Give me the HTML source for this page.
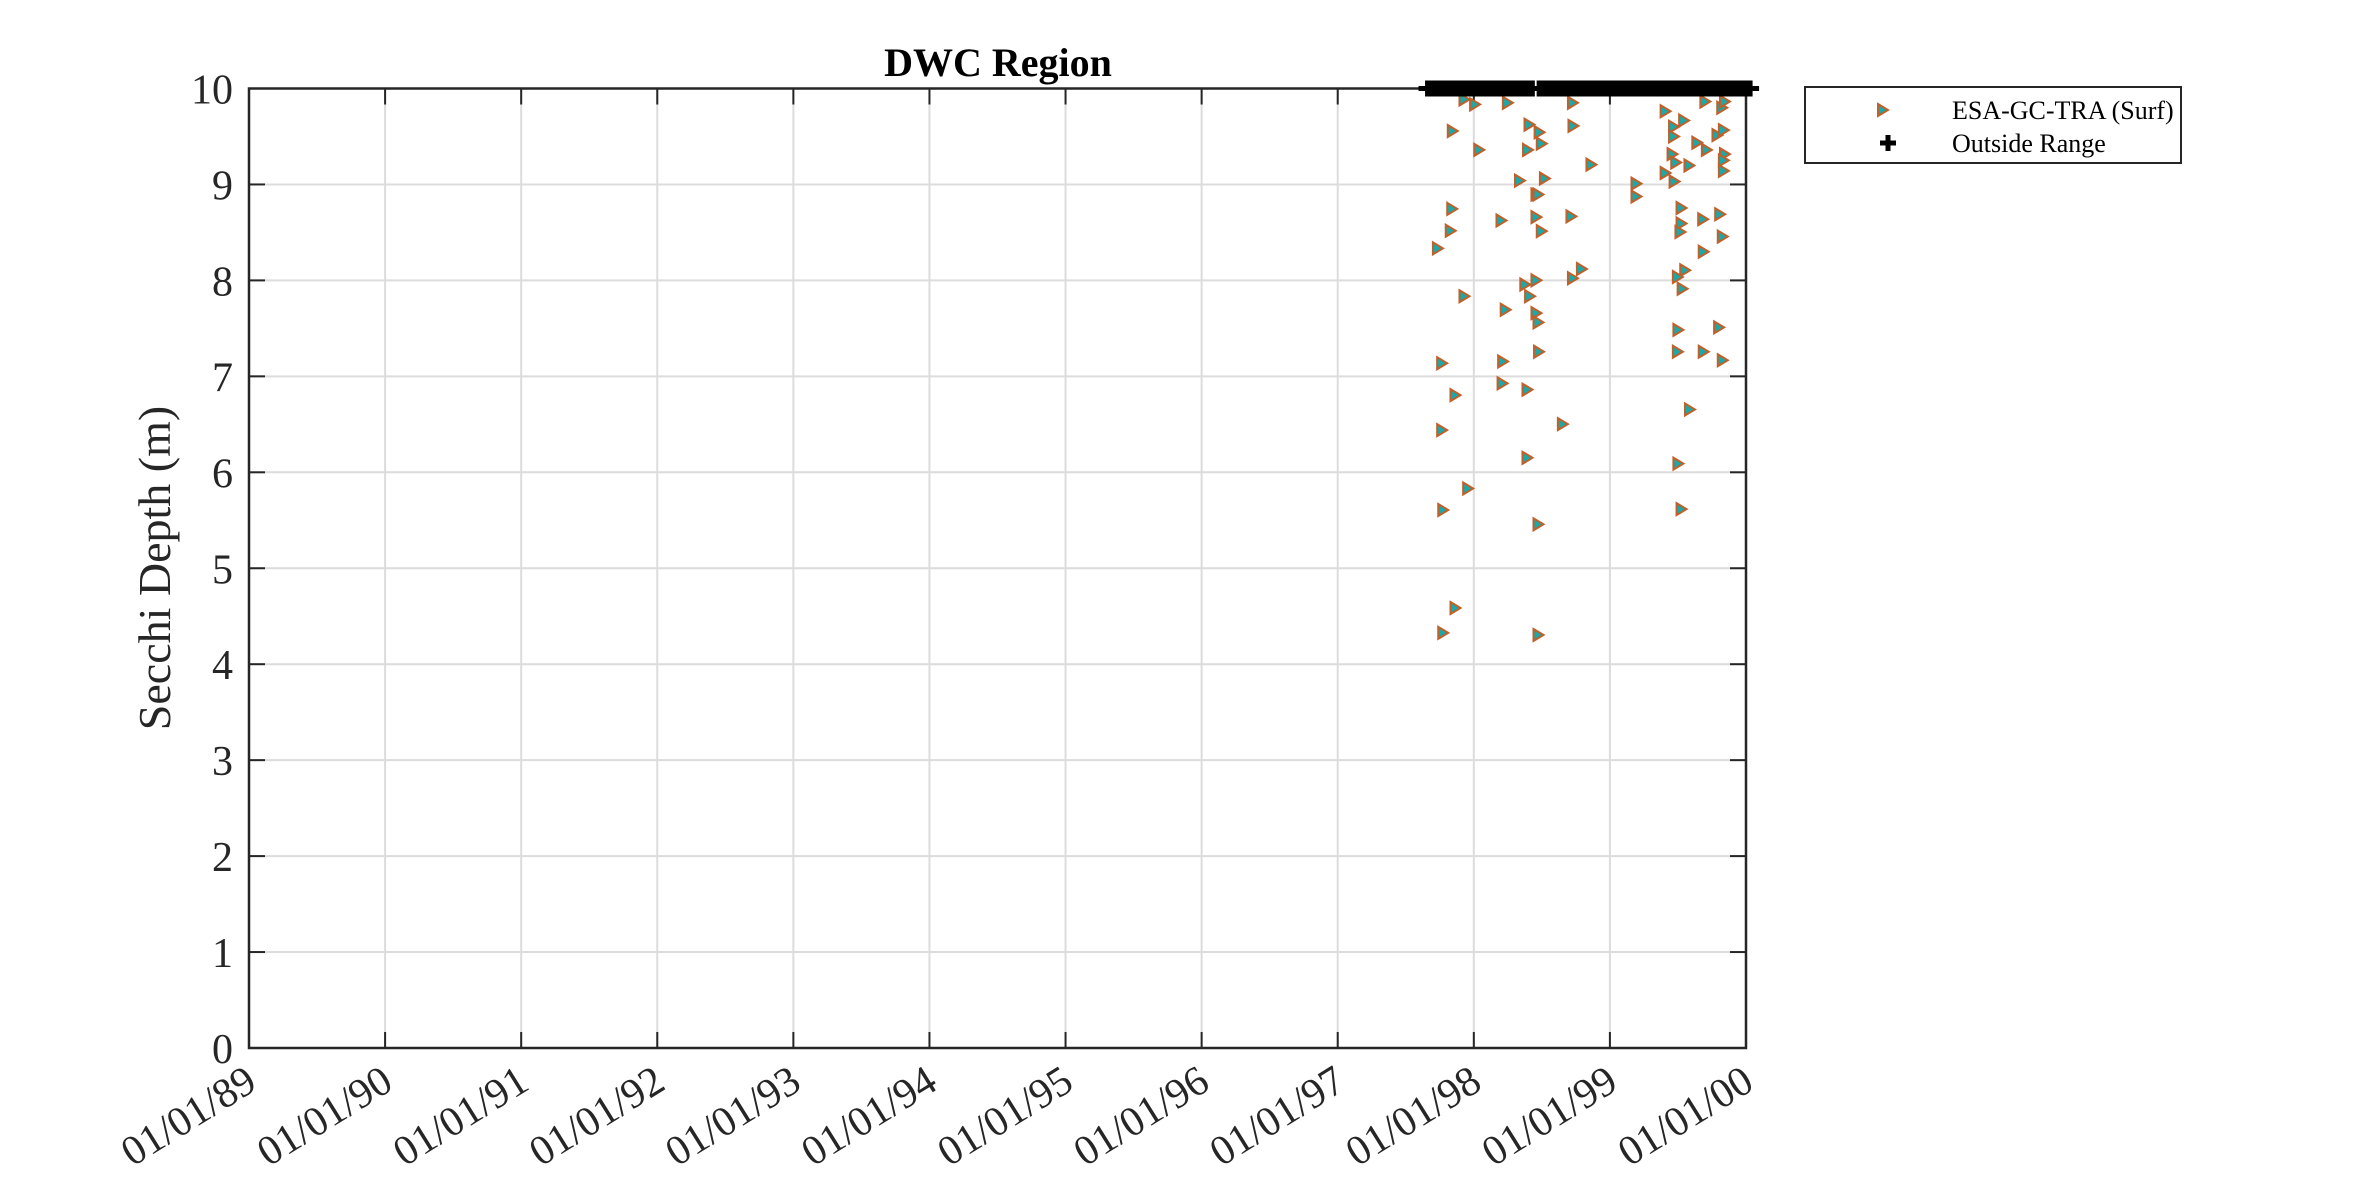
<!DOCTYPE html>
<html><head><meta charset="utf-8"><style>
html,body{margin:0;padding:0;background:#fff;}
svg{display:block;font-family:"Liberation Serif",serif;}
</style></head><body>
<svg id="chart" width="2362" height="1181" viewBox="0 0 2362 1181" xmlns="http://www.w3.org/2000/svg">
<rect width="2362" height="1181" fill="#fff"/>
<g id="grid"></g>
<g id="axes"></g>
<g id="marks"></g>
<text x="998" y="76" text-anchor="middle" font-size="40" font-weight="bold" fill="#000">DWC Region</text>
<text transform="translate(170,568) rotate(-90)" text-anchor="middle" font-size="46" fill="#262626">Secchi Depth (m)</text>
<g>
<rect x="1805" y="87" width="376" height="76" fill="#fff" stroke="#262626" stroke-width="2"/>
<polygon points="1878,104 1888,110 1878,116" fill="#1aa8a8" stroke="#c0602a" stroke-width="2"/>
<text x="1952" y="119" font-size="26" fill="#000">ESA-GC-TRA (Surf)</text>
<path d="M1880,143 h16 M1888,135 v16" stroke="#000" stroke-width="5"/>
<text x="1952" y="152" font-size="26" fill="#000">Outside Range</text>
</g>
</svg>
<script>
const yTicks=[0,1,2,3,4,5,6,7,8,9,10];
const xTickLabels=["01/01/89","01/01/90","01/01/91","01/01/92","01/01/93","01/01/94","01/01/95","01/01/96","01/01/97","01/01/98","01/01/99","01/01/00"];
// years since 1989-01-01
const surfYears=[8.838,9.033,8.834,8.823,8.729,8.924,8.760,8.858,8.760,8.951,8.768,8.858,8.768,9.002,8.924,9.243,9.402,9.476,9.492,9.391,9.332,9.515,9.453,9.468,9.857,9.721,9.725,9.196,9.453,9.492,9.710,9.371,9.453,9.406,9.227,9.453,9.468,9.472,9.208,9.204,9.387,9.721,9.787,9.647,9.387,9.468,9.468,10.188,10.188,10.402,10.538,10.464,10.464,10.635,10.705,10.453,10.480,10.577,10.402,10.468,10.783,10.830,10.838,10.830,10.830,10.694,10.818,10.838,10.519,10.519,10.511,10.678,10.803,10.822,10.682,10.546,10.492,10.527,10.496,10.795,10.492,10.682,10.822,10.581,10.496,10.519];
const surfDepth=[9.557,9.360,8.746,8.518,8.334,7.835,7.137,6.804,6.440,5.831,5.607,4.586,4.327,9.834,9.886,9.851,9.623,9.544,9.426,9.360,9.040,9.062,8.895,8.895,9.207,9.851,9.610,8.624,8.659,8.514,8.667,7.957,8.001,7.835,7.694,7.659,7.563,7.256,7.155,6.927,6.861,8.023,8.119,6.502,6.151,5.458,4.305,9.009,8.874,9.763,9.667,9.601,9.500,9.435,9.360,9.316,9.229,9.198,9.119,9.031,9.514,9.566,9.316,9.251,9.141,9.864,9.799,9.864,8.755,8.593,8.505,8.637,8.689,8.457,8.299,8.106,8.036,7.913,7.484,7.510,7.256,7.256,7.168,6.655,6.090,5.616];
const outsideYears=[8.66,8.69,8.72,8.75,8.78,8.81,8.84,8.87,8.90,8.93,8.96,8.99,9.02,9.05,9.08,9.11,9.14,9.17,9.20,9.23,9.26,9.29,9.32,9.35,9.38,9.41,9.43,9.48,9.50,9.53,9.56,9.59,9.62,9.65,9.68,9.71,9.74,9.77,9.80,9.83,9.86,9.89,9.92,9.95,9.98,10.01,10.04,10.07,10.10,10.13,10.16,10.19,10.22,10.25,10.28,10.31,10.34,10.37,10.40,10.43,10.46,10.49,10.52,10.55,10.58,10.61,10.64,10.67,10.70,10.73,10.76,10.79,10.82,10.85,10.88,10.91,10.94,10.97,11.00,11.03];
const outsideVal=10;

const NS="http://www.w3.org/2000/svg";
const L=249,R=1746,T=88.5,B=1048,X0=0,X1=11,Y0=0,Y1=10;
function xs(v){return L+(v-X0)/(X1-X0)*(R-L);}
function ys(v){return B-(v-Y0)/(Y1-Y0)*(B-T);}
function mk(tag,attrs,parent){const e=document.createElementNS(NS,tag);for(const k in attrs)e.setAttribute(k,attrs[k]);parent.appendChild(e);return e;}
const grid=document.getElementById('grid'),axes=document.getElementById('axes'),marks=document.getElementById('marks');

yTicks.forEach(v=>{
  const y=ys(v);
  if(v>Y0&&v<Y1){const g=mk('line',{x1:L,x2:R,y1:y,y2:y,stroke:'#dcdcdc','stroke-width':2},grid);
  
  }
  const t1=mk('line',{x1:L,x2:L+16,y1:y,y2:y,stroke:'#262626','stroke-width':2},axes);
  
  
  const t2=mk('line',{x1:R,x2:R-16,y1:y,y2:y,stroke:'#262626','stroke-width':2},axes);
  
  
  const lb=mk('text',{x:L-16,y:y+15,'text-anchor':'end','font-size':42,fill:'#262626'},axes);
  lb.textContent=String(v);
  
  
});
xTickLabels.forEach((s,i)=>{
  const x=xs(i);
  if(i>0&&i<xTickLabels.length-1){const g=mk('line',{x1:x,x2:x,y1:T,y2:B,stroke:'#dcdcdc','stroke-width':2},grid);
  
  }
  const t1=mk('line',{x1:x,x2:x,y1:B,y2:B-16,stroke:'#262626','stroke-width':2},axes);
  
  
  const t2=mk('line',{x1:x,x2:x,y1:T,y2:T+16,stroke:'#262626','stroke-width':2},axes);
  
  
  const lb=mk('text',{transform:`translate(${x+10},${B+40}) rotate(-32)`,'text-anchor':'end','font-size':42,fill:'#262626'},axes);
  lb.textContent=s;
  
  
});
const box=mk('rect',{x:L,y:T,width:R-L,height:B-T,fill:'none',stroke:'#262626','stroke-width':2.5},axes);



surfYears.forEach((yr,i)=>{
  const cx=xs(yr),cy=ys(surfDepth[i]);
  const p=mk('polygon',{points:`${cx-4},${cy-6} ${cx+6},${cy} ${cx-4},${cy+6}`,fill:'#1aa8a8',stroke:'#c0602a','stroke-width':2},marks);
  
  
});
outsideYears.forEach(yr=>{
  const cx=xs(yr),cy=ys(outsideVal);
  const p=mk('path',{d:`M${cx-9},${cy} h18 M${cx},${cy-8} v16`,stroke:'#000','stroke-width':5},marks);
  
  
});
</script>
</body></html>
